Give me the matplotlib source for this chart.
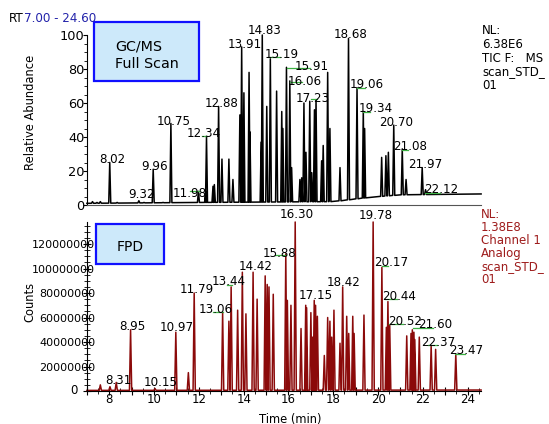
import numpy as np
import matplotlib
matplotlib.use('Agg')
import matplotlib.pyplot as plt
from matplotlib.patches import Rectangle
from matplotlib.text import Annotation
from matplotlib.ticker import MultipleLocator, FuncFormatter

plt.rcParams['font.family'] = ['DejaVu Sans']
plt.rcParams['font.size'] = 8.5

# ---- GC/MS full scan (TIC, relative abundance %) ----
ms_rt = [7.25, 7.45, 7.6, 8.02, 8.35, 9.32, 9.55, 9.96, 10.4, 10.75,
         11.98, 12.30, 12.34, 12.63, 12.69, 12.88, 13.03, 13.34, 13.52,
         13.83, 13.91, 13.97, 14.01, 14.24, 14.28, 14.78, 14.83, 15.03,
         15.19, 15.47, 15.70, 15.75, 15.91, 16.06, 16.14, 16.51, 16.59,
         16.69, 16.78, 16.95, 17.04, 17.16, 17.23, 17.48, 17.55, 17.75,
         17.85, 18.30, 18.68, 19.06, 19.34, 19.40, 20.16, 20.35, 20.46,
         20.70, 21.08, 21.25, 21.97, 22.12]
ms_height = [2, 1.5, 2, 25, 1.5, 2.5, 1.5, 21, 1.5, 48,
             8, 8, 40, 11, 12, 58, 27, 27, 15,
             53, 93, 38, 66, 78, 43, 37, 100, 58,
             86, 67, 55, 45, 81, 73, 22, 15, 16,
             60, 31, 61, 19, 56, 62, 26, 35, 78,
             45, 22, 98, 69, 55, 45, 28, 29, 31,
             47, 33, 15, 22, 9]
ms_base_rt = [7.0, 12.0, 18.0, 19.6, 21.0, 24.6]
ms_base = [1.0, 1.5, 2.0, 4.5, 6.0, 6.5]
ms_labels = ['8.02', '9.32', '9.96', '10.75', '11.98', '12.34', '12.88',
             '13.91', '14.83', '15.19', '15.91', '16.06', '17.23', '18.68',
             '19.06', '19.34', '20.70', '21.08', '21.97', '22.12']

# ---- FPD channel (counts, millions) ----
fpd_rt = [7.6, 8.03, 8.31, 8.95, 10.04, 10.97, 11.53, 11.79, 13.06, 13.34,
          13.44, 13.73, 13.94, 14.10, 14.42, 14.60, 14.96, 15.05, 15.13,
          15.32, 15.88, 15.95, 16.11, 16.30, 16.56, 16.77, 16.81, 17.00,
          17.08, 17.15, 17.21, 17.29, 17.60, 17.75, 17.85, 17.93, 18.03,
          18.30, 18.42, 18.60, 18.69, 18.87, 18.93, 19.37, 19.78, 20.17,
          20.37, 20.44, 20.52, 21.28, 21.47, 21.53, 21.60, 21.64, 21.84,
          22.37, 22.57, 23.47]
fpd_height_m = [5, 3.5, 7, 50, 2, 48, 15, 80, 64, 57,
                85, 66, 97, 63, 97, 75, 94, 87, 85,
                79, 112, 74, 70, 138, 51, 70, 68, 64,
                44, 74, 70, 61, 29, 60, 57, 44, 66,
                39, 85, 61, 47, 61, 47, 62, 138, 101,
                52, 73, 54, 45, 47, 50, 48, 42, 44,
                37, 34, 30]
fpd_base_rt = [7.0, 24.6]
fpd_base_m = [0.5, 0.8]
fpd_labels = ['8.31', '8.95', '10.15', '10.97', '11.79', '13.06', '13.44',
              '14.42', '15.88', '16.30', '17.15', '18.42', '19.78', '20.17',
              '20.44', '20.52', '21.60', '22.37', '23.47']

# ---- layout: label anchors (data coords) and green leader marks ----
ms_label_pos = [(8.12, 24.7), (9.42, 4.1), (10.0, 20.6), (10.89, 47),
                (11.60, 4.7), (12.23, 40), (12.99, 57.6), (14.06, 92.4),
                (14.95, 100.6), (15.71, 86.5), (17.05, 79.4), (16.74, 70.6),
                (17.09, 60.6), (18.79, 98.2), (19.50, 68.8), (19.91, 54.7),
                (20.80, 46.5), (21.42, 32.4), (22.09, 21.8), (22.81, 7.1)]
ms_leaders = [(11.60, 12.05, 8.2), (12.14, 12.36, 40.6), (15.08, 15.62, 87),
              (15.93, 16.96, 80.6), (16.07, 16.60, 72.4), (17.0, 17.27, 62.4),
              (19.06, 19.42, 68.8), (19.33, 19.64, 54.7), (21.07, 21.34, 32.4),
              (22.09, 22.76, 7.1)]
fpd_label_pos = [(8.39, 5.7), (9.01, 49.8), (10.31, 4.1), (11.02, 49),
                 (11.91, 80), (12.76, 63.6), (13.34, 86.5), (14.55, 98.7),
                 (15.62, 109.3), (16.38, 141), (17.23, 75), (18.48, 85.7),
                 (19.91, 140.4), (20.57, 102), (20.93, 74.3), (21.23, 53.9),
                 (22.56, 51.4), (22.67, 36.7), (23.92, 30.2)]
fpd_leaders = [(12.63, 13.08, 64.5), (13.26, 13.48, 86.5), (15.40, 15.88, 111),
               (20.17, 20.44, 102), (20.31, 20.84, 75), (20.49, 21.11, 54.7),
               (21.56, 22.45, 51.4), (22.23, 22.63, 37.5), (23.43, 23.88, 30.2)]


def trace(rt, height, base_rt, base_v, w):
    # one narrow triangle per peak, sitting on the baseline
    xs, ys = [base_rt[0]], [base_v[0]]
    for i in np.argsort(rt):
        t = rt[i]
        b = np.interp(t, base_rt, base_v)
        xs += [t - w, t, t + w]
        ys += [b, height[i], b]
    xs.append(base_rt[-1])
    ys.append(base_v[-1])
    return xs, ys


W, H = 549, 424
fig = plt.figure(figsize=(W / 100, H / 100), dpi=100)
x0, xw = 86.9 / W, 394.2 / W
ax1 = fig.add_axes([x0, (H - 205) / H, xw, 170 / H])
ax2 = fig.add_axes([x0, (H - 391) / H, xw, 169 / H])

for ax in (ax1, ax2):
    ax.set_xlim(7.0, 24.6)
    ax.spines['top'].set_visible(False)
    ax.spines['right'].set_visible(False)
    ax.patch.set_visible(False)

# top panel
xs, ys = trace(ms_rt, ms_height, ms_base_rt, ms_base, 0.045)
ax1.plot(xs, ys, color='black', lw=1.1, clip_on=False)
ax1.set_ylim(0, 100)
ax1.yaxis.set_major_locator(MultipleLocator(20))
ax1.yaxis.set_minor_locator(MultipleLocator(5))
ax1.tick_params(axis='y', which='major', direction='out', length=3, pad=-1.2, labelsize=9.3)
ax1.tick_params(axis='y', which='minor', direction='out', length=2)
ax1.tick_params(axis='x', which='both', bottom=False, labelbottom=False)
ax1.spines['bottom'].set_color('#555555')
for txt, (tx, ty) in zip(ms_labels, ms_label_pos):
    ax1.text(tx, ty, txt, ha='center', va='baseline', fontsize=8.6, clip_on=False)
for a, b, y in ms_leaders:
    ax1.plot([a, b], [y, y], color='#3cb043', lw=0.9, clip_on=False)

# bottom panel
xs, ys = trace(fpd_rt, [v * 1e6 for v in fpd_height_m], fpd_base_rt,
               [v * 1e6 for v in fpd_base_m], 0.05)
ax2.plot(xs, ys, color='#8b0a0a', lw=1.1, clip_on=False)
ax2.set_ylim(0, 138e6)
ax2.yaxis.set_major_locator(MultipleLocator(20e6))
ax2.yaxis.set_minor_locator(MultipleLocator(5e6))
ax2.yaxis.set_major_formatter(FuncFormatter(lambda v, p: '' if v == 0 else '%d' % v))
ax2.tick_params(axis='y', which='major', direction='inout', length=6, pad=-9, labelsize=8)
ax2.tick_params(axis='y', which='minor', direction='inout', length=4)
ax2.xaxis.set_major_locator(MultipleLocator(1))
ax2.xaxis.set_minor_locator(MultipleLocator(0.5))
ax2.xaxis.set_major_formatter(FuncFormatter(lambda v, p: '%d' % v if int(round(v)) % 2 == 0 else ''))
ax2.tick_params(axis='x', which='major', direction='inout', length=6, pad=-1.6, labelsize=8.5)
ax2.tick_params(axis='x', which='minor', direction='inout', length=4)
for txt, (tx, ty) in zip(fpd_labels, fpd_label_pos):
    ax2.text(tx, ty * 1e6, txt, ha='center', va='baseline', fontsize=8.6, clip_on=False)
for a, b, y in fpd_leaders:
    ax2.plot([a, b], [y * 1e6, y * 1e6], color='#3cb043', lw=0.9, clip_on=False)

fig.text(78 / W, 1 - 391 / H, '0', ha='right', va='center', fontsize=8.5)
fig.text(290 / W, 1 - 419 / H, 'Time (min)', ha='center', va='center', fontsize=8.3)
fig.text(30 / W, 1 - 112 / H, 'Relative Abundance', rotation=90, ha='center', va='center', fontsize=8.3)
fig.text(30 / W, 1 - 302 / H, 'Counts', rotation=90, ha='center', va='center', fontsize=8.3)

# header: "RT" in black, range in blue right after it
rt = fig.text(9 / W, 1 - 22 / H, 'RT', ha='left', va='baseline', fontsize=8.6)
fig.add_artist(Annotation('7.00 - 24.60', xy=(1, 0), xycoords=rt,
                          va='bottom', ha='left', color='#2222aa', fontsize=8.6))

fig.text(482 / W, 1 - 24 / H, 'NL:\n6.38E6\nTIC F:   MS\nscan_STD_\n01',
         ha='left', va='top', fontsize=8.5, linespacing=1.08)
fig.text(481 / W, 1 - 208 / H, 'NL:\n1.38E8\nChannel 1\nAnalog\nscan_STD_\n01',
         ha='left', va='top', fontsize=8.5, linespacing=1.0, color='#9e1c1c')

# boxes
fig.add_artist(Rectangle((94 / W, 1 - 81 / H), 105 / W, 59 / H, transform=fig.transFigure,
                         facecolor='#cde9fa', edgecolor='#1010ff', lw=1.6))
fig.text(115 / W, 1 - 50 / H, 'GC/MS', fontsize=10.3, va='baseline')
fig.text(115 / W, 1 - 68 / H, 'Full Scan', fontsize=10.3, va='baseline')
fig.add_artist(Rectangle((96 / W, 1 - 264 / H), 68 / W, 40 / H, transform=fig.transFigure,
                         facecolor='#cde9fa', edgecolor='#1010ff', lw=1.6))
fig.text(130 / W, 1 - 251 / H, 'FPD', fontsize=10, ha='center', va='baseline')

fig.savefig('out.png', dpi=100)
